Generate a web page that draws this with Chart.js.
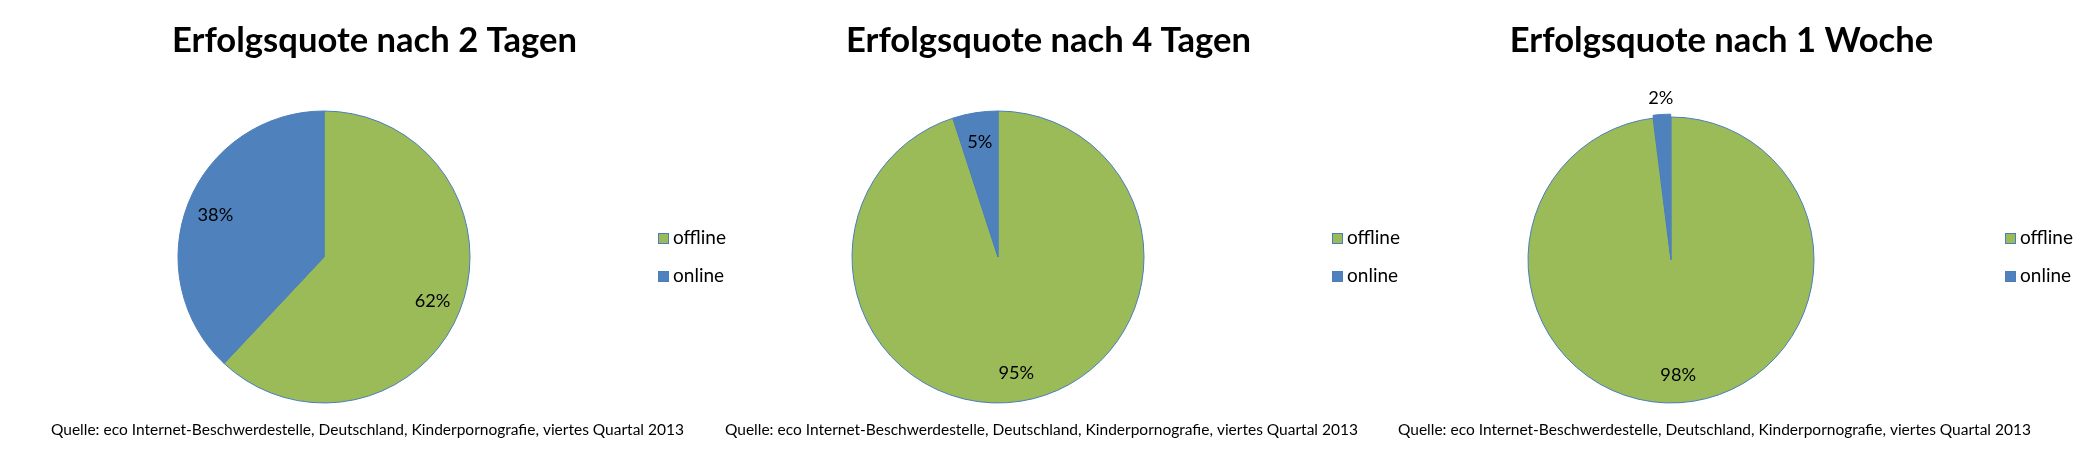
<!DOCTYPE html>
<html><head><meta charset="utf-8">
<script src="https://cdn.jsdelivr.net/npm/chart.js@4"></script>
<style>
html,body{margin:0;padding:0;background:#fff;}
body{width:2097px;height:450px;position:relative;overflow:hidden;}
canvas{position:absolute;top:0;}
</style></head><body>
<canvas id="c0" width="749" height="450"></canvas>
<canvas id="c1" width="749" height="450"></canvas>
<canvas id="c2" width="749" height="450"></canvas>
<script>
// ---- data ----
const categories = ['offline', 'online'];
const chartTitles = ['Erfolgsquote nach 2 Tagen', 'Erfolgsquote nach 4 Tagen', 'Erfolgsquote nach 1 Woche'];
const values2Tage = [62, 38];
const values4Tage = [95, 5];
const values1Woche = [98, 2];
const sourceNote = 'Quelle: eco Internet-Beschwerdestelle, Deutschland, Kinderpornografie, viertes Quartal 2013';
const seriesByChart = [values2Tage, values4Tage, values1Woche];

// ---- style / layout ----
const seriesColors = ['#9BBB59', '#4F81BD'];
const sliceBorder = '#4A7EBB';
const explodeOffsets = [[0, 0], [0, 0], [0, 6]];
const chartStep = 673.5;
const canvasW = 749, canvasH = 450;
const areaTop = [110.5, 110.5, 113.5];
const areaHeight = 293;
const areaWidth = 648;
const FONT = 'Lato, Carlito, Calibri, sans-serif';
const titleBaseline = 52;
const legendX = 658, legendY0 = 233, legendGap = 38, legendBox = 11;
const sourceX = 51, sourceBaseline = 435;

function fitSize(text, weight, target) {
  const c = document.createElement('canvas').getContext('2d');
  c.font = weight + ' 100px ' + FONT;
  return 100 * target / c.measureText(text).width;
}
const titleSize = fitSize(chartTitles[0], 'bold', 405);
const legendSize = fitSize(categories[0], 'normal', 53);
const labelSize = fitSize('38%', 'normal', 35.7);
const sourceSize = fitSize(sourceNote, 'normal', 633);

const textPlugin = {
  id: 'textLayer',
  afterDatasetsDraw(chart, args, opts) {
    const ctx = chart.ctx;
    ctx.save();
    ctx.fillStyle = '#000';
    ctx.textBaseline = 'alphabetic';
    // title
    ctx.font = 'bold ' + titleSize + 'px ' + FONT;
    ctx.textAlign = 'center';
    ctx.fillText(opts.title, canvasW / 2, titleBaseline);
    // data labels
    const meta = chart.getDatasetMeta(0);
    const ds = chart.data.datasets[0];
    const total = ds.data.reduce((a, b) => a + b, 0);
    ctx.font = labelSize + 'px ' + FONT;
    const capH = 0.72 * labelSize;
    meta.data.forEach((arc, i) => {
      const p = arc.getProps(['x', 'y', 'startAngle', 'endAngle', 'outerRadius'], true);
      const mid = (p.startAngle + p.endAngle) / 2;
      const pct = ds.data[i] / total * 100;
      const off = (ds.offset && ds.offset[i]) || 0;
      const d = pct < 3 ? p.outerRadius + off + 14 : p.outerRadius * 0.8 + off;
      const lx = p.x + Math.cos(mid) * d;
      const ly = p.y + Math.sin(mid) * d;
      ctx.fillText(Math.round(pct) + '%', lx, ly + capH / 2);
    });
    // legend
    ctx.textAlign = 'left';
    ctx.font = legendSize + 'px ' + FONT;
    chart.data.labels.forEach((lab, i) => {
      const y = legendY0 + i * legendGap;
      ctx.fillStyle = ds.backgroundColor[i];
      ctx.fillRect(legendX, y, legendBox, legendBox);
      ctx.strokeStyle = sliceBorder;
      ctx.lineWidth = 1;
      ctx.strokeRect(legendX + 0.5, y + 0.5, legendBox - 1, legendBox - 1);
      ctx.fillStyle = '#000';
      ctx.fillText(lab, legendX + legendBox + 4, y + legendBox);
    });
    // source
    ctx.font = sourceSize + 'px ' + FONT;
    ctx.fillText(sourceNote, sourceX, sourceBaseline);
    ctx.restore();
  }
};

seriesByChart.forEach((values, k) => {
  const canvas = document.getElementById('c' + k);
  canvas.style.left = Math.round(k * chartStep) + 'px';
  new Chart(canvas, {
    type: 'pie',
    data: {
      labels: categories,
      datasets: [{
        data: values,
        backgroundColor: seriesColors,
        borderColor: sliceBorder,
        borderWidth: 1,
        offset: explodeOffsets[k],
        hoverOffset: 0
      }]
    },
    options: {
      responsive: false,
      animation: false,
      events: [],
      devicePixelRatio: 1,
      layout: { padding: { left: 0, right: canvasW - areaWidth, top: areaTop[k], bottom: canvasH - areaTop[k] - areaHeight } },
      plugins: {
        legend: { display: false },
        tooltip: { enabled: false },
        title: { display: false },
        textLayer: { title: chartTitles[k] }
      }
    },
    plugins: [textPlugin]
  });
});
</script>
</body></html>
